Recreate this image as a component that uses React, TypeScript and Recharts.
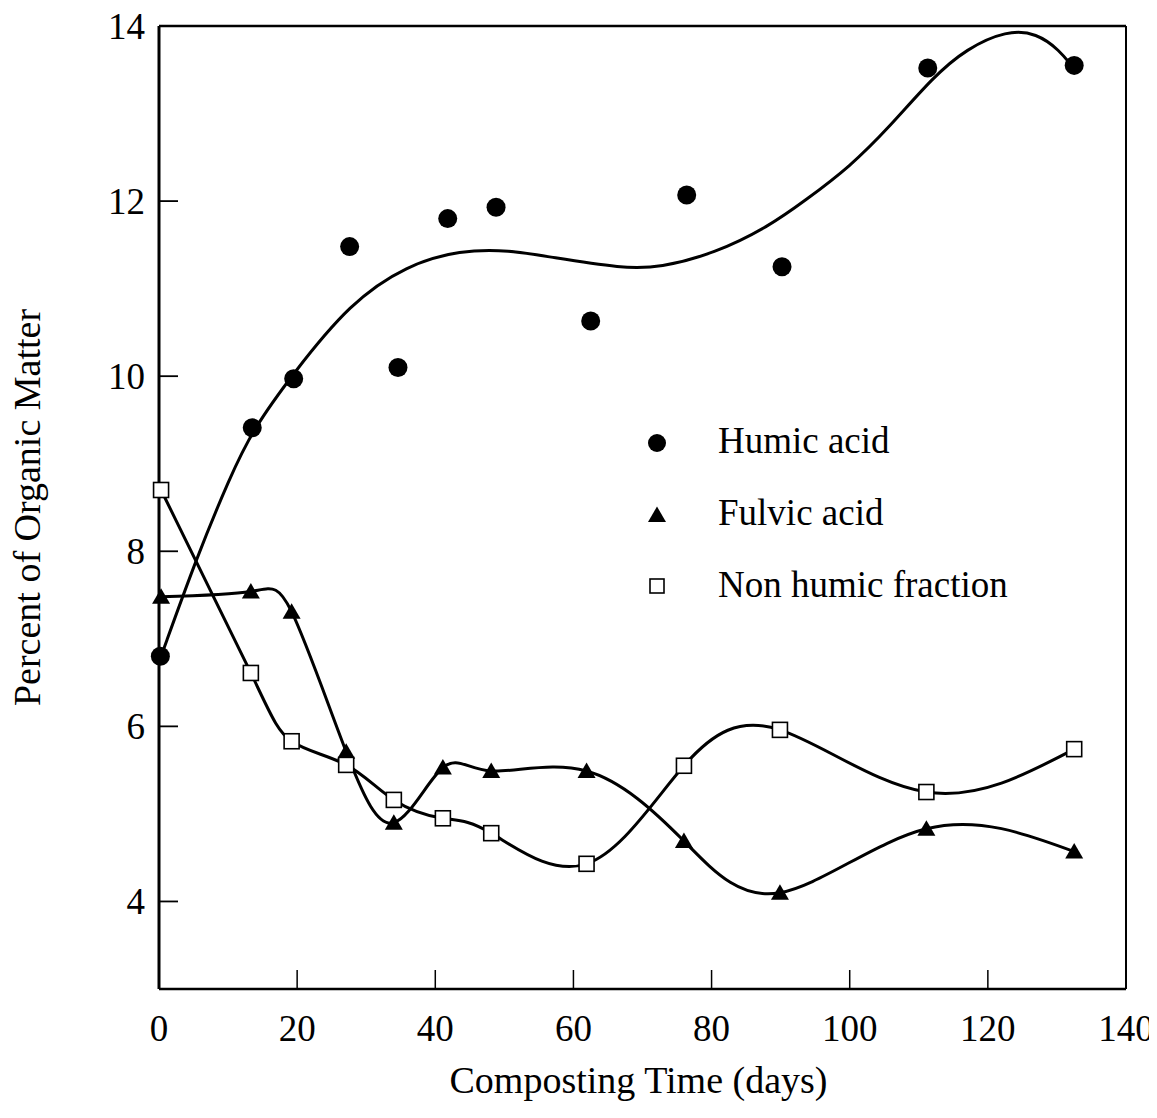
import { ComposedChart, Line, Scatter, XAxis, YAxis, ReferenceLine, Legend, Label } from "recharts";

// days at which samples were taken
const humicDays = [0.2, 13.5, 19.5, 27.6, 34.6, 41.8, 48.8, 62.5, 76.4, 90.2, 111.3, 132.5];
const sampleDays = [0.3, 13.3, 19.2, 27.1, 34.0, 41.1, 48.1, 61.9, 76.0, 89.9, 111.1, 132.5];

const humicAcid = [6.8, 9.41, 9.97, 11.48, 10.1, 11.8, 11.93, 10.63, 12.07, 11.25, 13.52, 13.55];
const fulvicAcid = [7.48, 7.54, 7.31, 5.71, 4.9, 5.53, 5.49, 5.49, 4.69, 4.1, 4.83, 4.57];
const nonHumic = [8.7, 6.61, 5.83, 5.56, 5.16, 4.95, 4.78, 4.43, 5.55, 5.96, 5.25, 5.74];

// fitted curve through the humic acid points
const fitDays = [0.3, 5.5, 10.3, 13.5, 19.4, 27.7, 35.9, 43.6, 50.8, 56.6, 67.2, 72.5, 80.4, 88.3, 93.6, 100, 105.8, 112.1, 116.9, 122.7, 127.1, 130.4, 132.2];
const fitValues = [6.8, 7.94, 8.85, 9.38, 10.03, 10.84, 11.27, 11.44, 11.44, 11.36, 11.23, 11.24, 11.4, 11.71, 12.01, 12.39, 12.85, 13.42, 13.74, 13.95, 13.92, 13.72, 13.54];

const xTicks = [0, 20, 40, 60, 80, 100, 120, 140];
const yTicks = [4, 6, 8, 10, 12, 14];
const legendLabels = ["Humic acid", "Fulvic acid", "Non humic fraction"];

const FONT = '"Liberation Serif", "Times New Roman", serif';

const toRows = (days: number[], vals: number[]) => days.map((d, i) => ({ day: d, value: vals[i] }));
const humicData = toRows(humicDays, humicAcid);
const fulvicData = toRows(sampleDays, fulvicAcid);
const nonHumicData = toRows(sampleDays, nonHumic);
const fitData = toRows(fitDays, fitValues);

const tri = (cx: number, cy: number) => `M${cx},${cy - 8.5} L${cx - 9},${cy + 7} L${cx + 9},${cy + 7} Z`;

const TriangleDot = (p: any) => {
  if (p.cx == null || p.cy == null) return <g key={`t-${p.index}`} />;
  return <path key={`t-${p.index}`} d={tri(p.cx, p.cy)} fill="#000" />;
};

const SquareDot = (p: any) => {
  if (p.cx == null || p.cy == null) return <g key={`s-${p.index}`} />;
  return <rect key={`s-${p.index}`} x={p.cx - 7.5} y={p.cy - 7.5} width={15} height={15} fill="#fff" stroke="#000" strokeWidth={1.6} />;
};

const XTick = ({ x, y, payload }: any) => (
  <g>
    <line x1={x} y1={y} x2={x} y2={y - 19} stroke="#000" strokeWidth={1.5} />
    <text x={x} y={y + 52} textAnchor="middle" fontFamily={FONT} fontSize={37} fill="#000">{payload.value}</text>
  </g>
);

const YTick = ({ x, y, payload }: any) => (
  <g>
    <line x1={x} y1={y} x2={x + 19} y2={y} stroke="#000" strokeWidth={1.8} />
    <text x={x - 14} y={y} dy="0.35em" textAnchor="end" fontFamily={FONT} fontSize={37} fill="#000">{payload.value}</text>
  </g>
);

const XTitle = (props: any) => {
  const vb = props.viewBox || {};
  return (
    <text x={vb.x + vb.width / 2 - 4} y={vb.y + 104} textAnchor="middle" fontFamily={FONT} fontSize={38} fill="#000">
      Composting Time (days)
    </text>
  );
};

const YTitle = (props: any) => {
  const vb = props.viewBox || {};
  const cx = 40;
  const cy = vb.y + vb.height / 2;
  return (
    <text x={cx} y={cy} transform={`rotate(-90, ${cx}, ${cy})`} textAnchor="middle" fontFamily={FONT} fontSize={38} fill="#000">
      Percent of Organic Matter
    </text>
  );
};

const LegendBox = () => (
  <svg width={440} height={220} style={{ display: "block" }}>
    <circle cx={19} cy={35} r={9} fill="#000" />
    <path d={tri(19, 107)} fill="#000" />
    <rect x={12} y={171} width={14} height={14} fill="#fff" stroke="#000" strokeWidth={1.6} />
    {legendLabels.map((l, i) => (
      <text key={l} x={80} y={45 + i * 72} fontFamily={FONT} fontSize={37} fill="#000">{l}</text>
    ))}
  </svg>
);

export default function App() {
  return (
    <div style={{ margin: -8 }}>
      <ComposedChart width={1157} height={1118} margin={{ top: 26, right: 31, bottom: 0, left: 0 }}>
        <XAxis
          type="number"
          dataKey="day"
          domain={[0, 140]}
          ticks={xTicks}
          interval={0}
          height={129}
          tickSize={0}
          tickMargin={0}
          tick={<XTick />}
          axisLine={{ stroke: "#000", strokeWidth: 2.5 }}
        >
          <Label content={<XTitle />} />
        </XAxis>
        <YAxis
          type="number"
          domain={[3, 14]}
          ticks={yTicks}
          interval={0}
          width={159}
          tickSize={0}
          tickMargin={0}
          tick={<YTick />}
          axisLine={{ stroke: "#000", strokeWidth: 3 }}
        >
          <Label content={<YTitle />} />
        </YAxis>
        <ReferenceLine y={14} stroke="#000" strokeWidth={2.5} />
        <ReferenceLine x={140} stroke="#000" strokeWidth={2} />
        <Line data={fitData} dataKey="value" type="basis" stroke="#000" strokeWidth={3} dot={false} activeDot={false} legendType="none" isAnimationActive={false} />
        <Line data={fulvicData} dataKey="value" type="natural" stroke="#000" strokeWidth={3} dot={TriangleDot} activeDot={false} isAnimationActive={false} />
        <Line data={nonHumicData} dataKey="value" type="natural" stroke="#000" strokeWidth={3} dot={SquareDot} activeDot={false} isAnimationActive={false} />
        <Scatter data={humicData} dataKey="value" fill="#000" isAnimationActive={false}
          shape={(p: any) => <circle cx={p.cx} cy={p.cy} r={9.5} fill="#000" />} />
        <Legend
          layout="vertical"
          align="center"
          verticalAlign="middle"
          width={440}
          height={220}
          wrapperStyle={{ left: 638, top: 408 }}
          content={<LegendBox />}
        />
      </ComposedChart>
    </div>
  );
}
